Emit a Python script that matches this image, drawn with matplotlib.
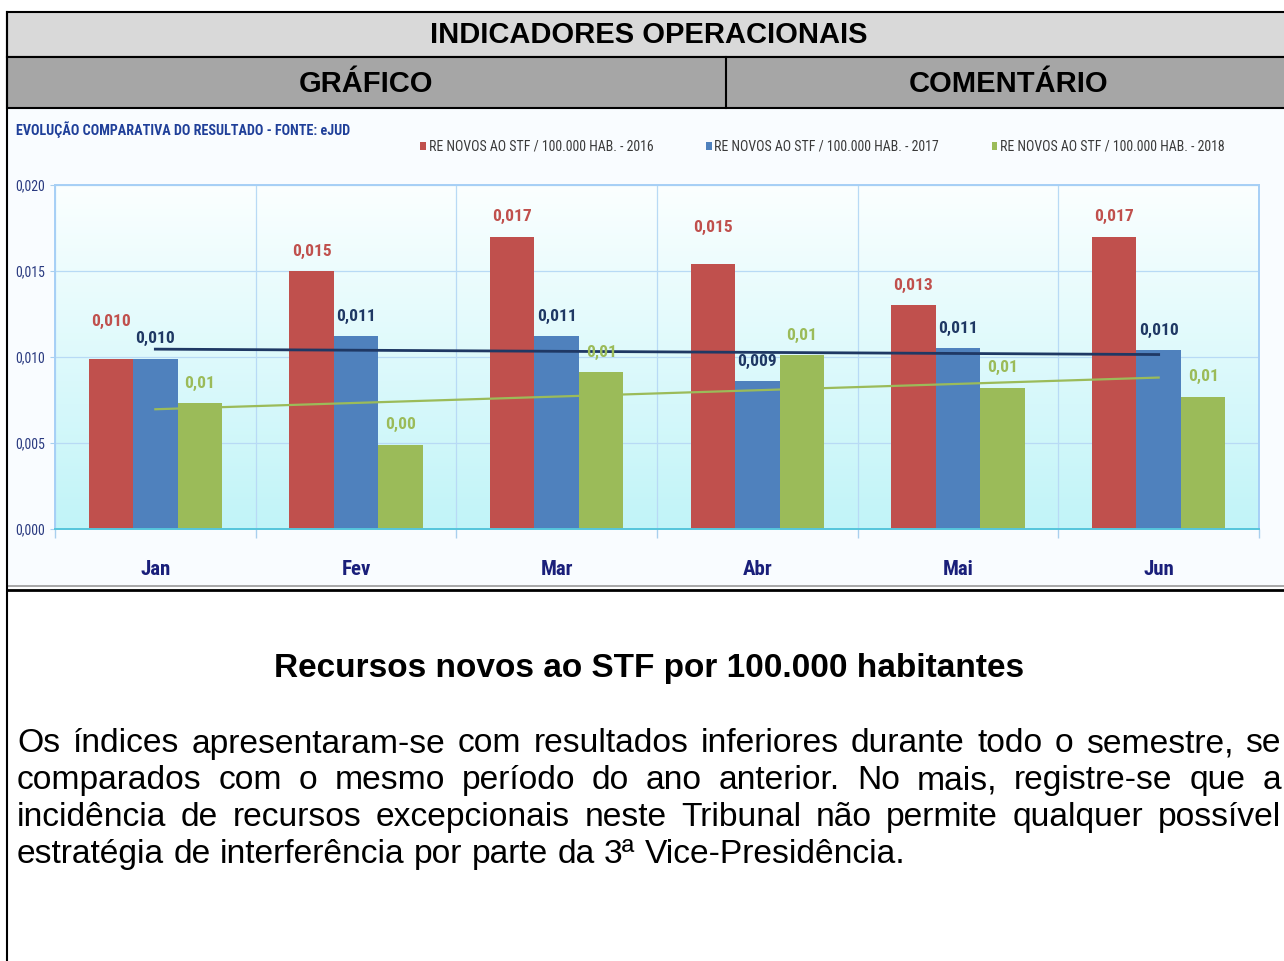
import numpy as np
import matplotlib
matplotlib.use('Agg')
import matplotlib.pyplot as plt
from matplotlib import font_manager
from matplotlib.lines import Line2D
from matplotlib.patches import Rectangle
from matplotlib.colors import LinearSegmentedColormap

# ================= DATA =================
months = ['Jan', 'Fev', 'Mar', 'Abr', 'Mai', 'Jun']
series_names = ['RE NOVOS AO STF / 100.000 HAB. - 2016',
                'RE NOVOS AO STF / 100.000 HAB. - 2017',
                'RE NOVOS AO STF / 100.000 HAB. - 2018']
v2016 = [0.0099, 0.0150, 0.0170, 0.0154, 0.0130, 0.0170]
v2017 = [0.0099, 0.0112, 0.0112, 0.0086, 0.0105, 0.0104]
v2018 = [0.0073, 0.0049, 0.0091, 0.0101, 0.0082, 0.0077]
label_decimals = [3, 3, 2]

chart_title = 'EVOLUÇÃO COMPARATIVA DO RESULTADO - FONTE: eJUD'
header_top = 'INDICADORES OPERACIONAIS'
header_left = 'GRÁFICO'
header_right = 'COMENTÁRIO'
comment_title = 'Recursos novos ao STF por 100.000 habitantes'
comment_lines = [
    'Os índices apresentaram-se com resultados inferiores durante todo o semestre, se',
    'comparados com o mesmo período do ano anterior. No mais, registre-se que a',
    'incidência de recursos excepcionais neste Tribunal não permite qualquer possível',
    'estratégia de interferência por parte da 3ª Vice-Presidência.',
]

# ================= STYLE =================
W, H = 1284, 961
bar_colors = ['#c0504d', '#4f81bd', '#9bbb59']
label_colors = ['#c0504d', '#1f3864', '#9bbb59']
red_label_lift = [17, 0, 0, 17, 0, 0]   # px, labels moved up by hand in the original

names = {f.name for f in font_manager.fontManager.ttflist}
if 'Roboto Condensed' in names:
    NARROW = {'family': 'Roboto Condensed'}
else:
    NARROW = {'family': 'DejaVu Sans', 'stretch': 'condensed'}
ARIAL = 'Liberation Sans'


def fx(px):
    return px / W


def fy(py):
    return 1 - py / H


fig = plt.figure(figsize=(W / 100, H / 100), dpi=100)
fig.patch.set_facecolor('white')

# ================= TABLE FRAME =================
fig.add_artist(Rectangle((fx(8), fy(587)), (1300 - 8) / W, 478 / H, transform=fig.transFigure,
                         facecolor='#f9fcff', edgecolor='none', zorder=-2))
fig.add_artist(Rectangle((fx(7), fy(57)), (1300 - 7) / W, 45 / H, transform=fig.transFigure,
                         facecolor='#d9d9d9', edgecolor='black', lw=1.5, zorder=-1))
fig.add_artist(Rectangle((fx(7), fy(108)), (1300 - 7) / W, 51 / H, transform=fig.transFigure,
                         facecolor='#a6a6a6', edgecolor='black', lw=1.5, zorder=-1))
fig.add_artist(Line2D([fx(726)] * 2, [fy(57), fy(108)], transform=fig.transFigure, color='black', lw=1.5))
fig.add_artist(Line2D([fx(7), 1], [fy(586)] * 2, transform=fig.transFigure, color='#999999', lw=1.2))
fig.add_artist(Line2D([fx(7), 1], [fy(590)] * 2, transform=fig.transFigure, color='black', lw=2))
fig.add_artist(Line2D([fx(7)] * 2, [fy(12), 0], transform=fig.transFigure, color='black', lw=1.5))

fig.text(fx(649), fy(35), header_top, family=ARIAL, weight='bold', fontsize=21, ha='center', va='center')
fig.text(fx(366), fy(84), header_left, family=ARIAL, weight='bold', fontsize=21, ha='center', va='center')
fig.text(fx(1009), fy(84), header_right, family=ARIAL, weight='bold', fontsize=21, ha='center', va='center')

# ================= CHART =================
ax = fig.add_axes([fx(55), fy(529), 1204 / W, 344 / H])
x = np.arange(len(months))
bw = 0.222

bg = LinearSegmentedColormap.from_list('bg', ['#fbffff', '#c1f4f8'])
ax.imshow(np.linspace(0, 1, 256).reshape(-1, 1), extent=[-0.5, 5.5, 0, 0.02],
          aspect='auto', cmap=bg, zorder=0)

all_series = [v2016, v2017, v2018]
bars = []
for i, vals in enumerate(all_series):
    b = ax.bar(x + (i - 1) * bw, vals, bw, color=bar_colors[i], zorder=2, label=series_names[i])
    bars.append(b)
    for j, v in enumerate(vals):
        txt = f'{v:.{label_decimals[i]}f}'.replace('.', ',')
        lift = red_label_lift[j] if i == 0 else 0
        ax.annotate(txt, (x[j] + (i - 1) * bw, v), xytext=(0, 20 + lift), textcoords='offset pixels',
                    ha='center', va='center', fontsize=12.5, weight='bold', **NARROW,
                    color=label_colors[i], zorder=6)

# linear trend lines of 2017 and 2018
for vals, col, lw in [(v2017, '#1f3864', 2.0), (v2018, '#9bbb59', 1.6)]:
    k, c = np.polyfit(x, vals, 1)
    ax.plot([x[0], x[-1]], [c + k * x[0], c + k * x[-1]], color=col, lw=lw, zorder=4)

ax.set_xlim(-0.5, 5.5)
ax.set_ylim(0, 0.02)
ax.set_xticks(np.arange(-0.5, 6, 1))
ax.set_xticklabels([])
ax.set_xticks(x, minor=True)
ax.set_xticklabels(months, minor=True, **NARROW, weight='bold', fontsize=15, color='#1a1f7a')
ax.tick_params(axis='x', which='major', length=6.5, color='#a9cfee', width=1)
ax.tick_params(axis='x', which='minor', length=0, pad=22.5)
yt = np.arange(0, 0.0201, 0.005)
ax.set_yticks(yt)
ax.set_yticklabels([f'{t:.3f}'.replace('.', ',') for t in yt], **NARROW, fontsize=10, color='#2a3a80')
ax.tick_params(axis='y', length=3.6, color='#a9cfee', pad=3.6)
ax.grid(True, color='#b8daf5', lw=0.9)
ax.set_axisbelow(True)
for side in ['left', 'top', 'right']:
    ax.spines[side].set_color('#a6cff6')
    ax.spines[side].set_linewidth(1.4)
ax.spines['bottom'].set_color('#55c5dc')
ax.spines['bottom'].set_linewidth(1.4)

fig.text(fx(16), fy(130), chart_title, **NARROW, weight='bold', fontsize=10.2, color='#1f3f99',
         ha='left', va='center')
fig.legend(handles=bars, loc='center left', bbox_to_anchor=(fx(420), fy(147)), ncol=3, frameon=False,
           prop=dict(NARROW, size=10), labelcolor='#3a3a3a', handlelength=0.42,
           handleheight=0.42, handletextpad=0.2, columnspacing=3.78, borderpad=0, borderaxespad=0)

# ================= COMMENT =================
fig.text(fx(649), fy(668), comment_title, family=ARIAL, weight='bold', fontsize=24, ha='center', va='center')

renderer = fig.canvas.get_renderer()
fs = 24.2
probe = fig.text(0, 0, 'a a', family=ARIAL, fontsize=fs)
probe2 = fig.text(0, 0, 'aa', family=ARIAL, fontsize=fs)
space_w = probe.get_window_extent(renderer).width - probe2.get_window_extent(renderer).width
probe.remove()
probe2.remove()

left, right = 17, 1281
for i, line in enumerate(comment_lines):
    words = line.split()
    texts = [fig.text(0, fy(744 + 36.7 * i), w, family=ARIAL, fontsize=fs, ha='left', va='center')
             for w in words]
    widths = [t.get_window_extent(renderer).width for t in texts]
    if i == len(comment_lines) - 1:
        gap = space_w
    else:
        gap = (right - left - sum(widths)) / (len(words) - 1)
    pos = left
    for t, w in zip(texts, widths):
        t.set_x(fx(pos))
        pos += w + gap

fig.savefig('out.png', dpi=100)
